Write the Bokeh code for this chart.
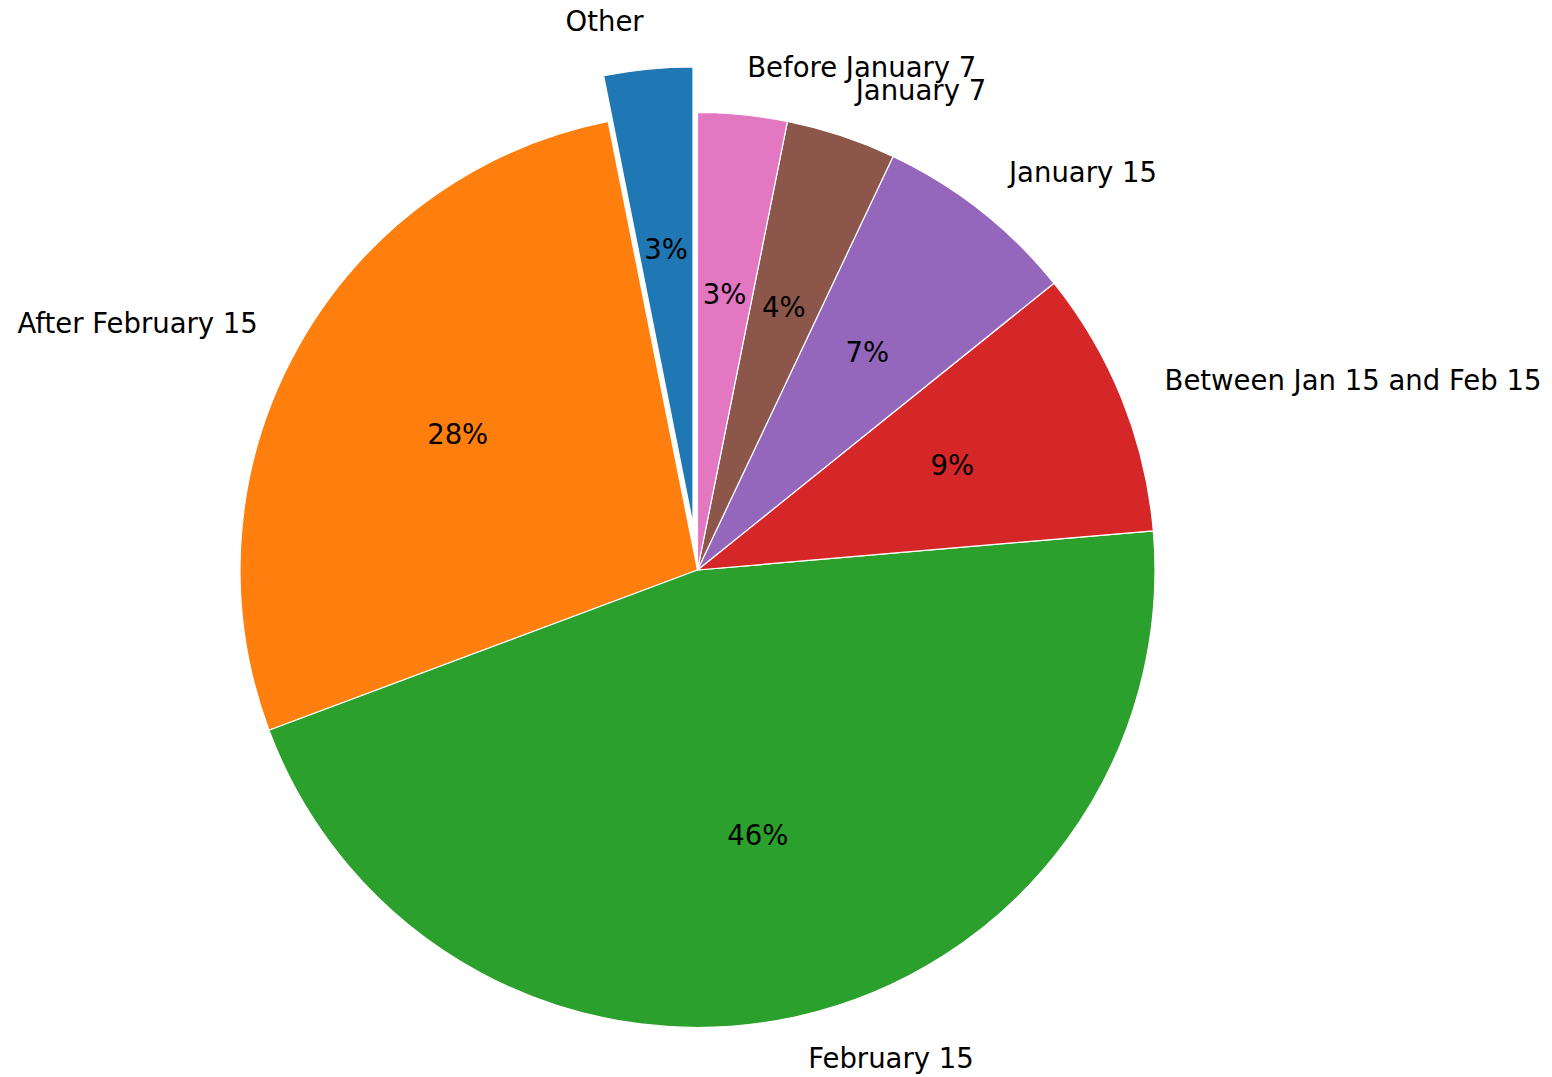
import math
from bokeh.plotting import figure
from bokeh.models import Range1d, ColumnDataSource
from bokeh.embed import file_html
from bokeh.resources import INLINE
from bokeh.core.properties import value

categories = ["Other", "After February 15", "February 15", "Between Jan 15 and Feb 15",
              "January 15", "January 7", "Before January 7"]
shares = [3.13, 27.57, 45.68, 9.42, 7.19, 3.88, 3.15]
colors = ["#1f77b4", "#ff7f0e", "#2ca02c", "#d62728", "#9467bd", "#8c564b", "#e377c2"]
explode = [0.1, 0, 0, 0, 0, 0, 0]

W, H = 1552, 1077
CX, CY, R = 697.0, H - 569.5, 457.5
FONT = value("DejaVu Sans")
FSIZE = "27.5px"
TXT_DY = 2.5

total = float(sum(shares))
theta = math.pi / 2
wx, wy, ws, we = [], [], [], []
lx, ly, lalign = [], [], []
px, py, ptext = [], [], []
for s, e in zip(shares, explode):
    t1 = theta + 2 * math.pi * s / total
    tm = (theta + t1) / 2
    cx = CX + e * R * math.cos(tm)
    cy = CY + e * R * math.sin(tm)
    wx.append(cx); wy.append(cy); ws.append(theta); we.append(t1)
    xt = cx + 1.1 * R * math.cos(tm)
    yt = cy + 1.1 * R * math.sin(tm)
    lx.append(xt); ly.append(yt + TXT_DY)
    lalign.append("left" if xt > CX else "right")
    px.append(cx + 0.6 * R * math.cos(tm))
    py.append(cy + 0.6 * R * math.sin(tm) + TXT_DY)
    ptext.append("%1.0f%%" % (100 * s / total))
    theta = t1

p = figure(width=W, height=H, output_backend="svg", toolbar_location=None,
           x_range=Range1d(0, W), y_range=Range1d(0, H), min_border=0)
p.axis.visible = False
p.grid.visible = False
p.outline_line_color = None
p.background_fill_color = "white"
p.border_fill_color = "white"

src = ColumnDataSource(dict(x=wx, y=wy, s=ws, e=we, c=colors))
p.wedge(x="x", y="y", radius=R, start_angle="s", end_angle="e", fill_color="c",
        line_color="white", line_width=1.2, source=src)

lsrc = ColumnDataSource(dict(x=lx, y=ly, t=categories, a=lalign))
p.text(x="x", y="y", text="t", text_align="a", text_baseline="middle",
       text_font=FONT, text_font_size=FSIZE, text_color="black", source=lsrc)

psrc = ColumnDataSource(dict(x=px, y=py, t=ptext))
p.text(x="x", y="y", text="t", text_align="center", text_baseline="middle",
       text_font=FONT, text_font_size=FSIZE, text_color="black", source=psrc)

open("out.html", "w").write(file_html(p, INLINE))
